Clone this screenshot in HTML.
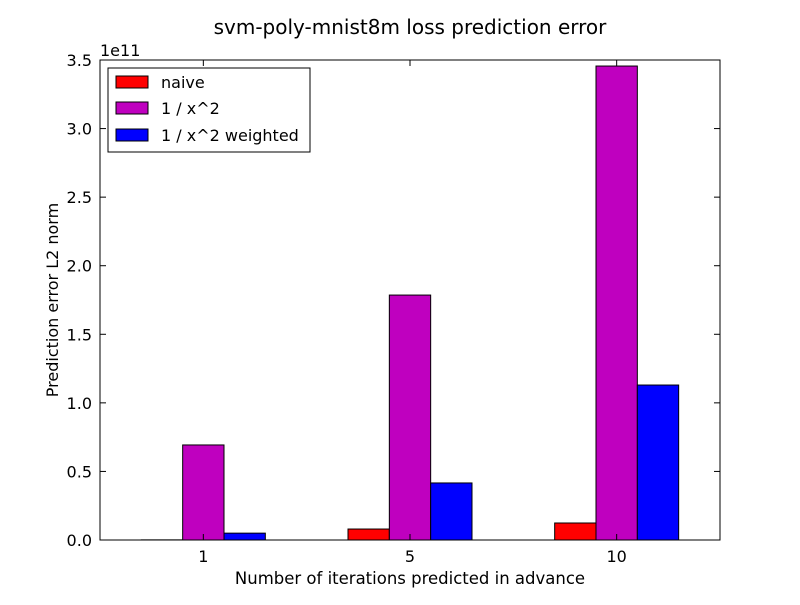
<!DOCTYPE html>
<html><head><meta charset="utf-8"><style>
body{margin:0;background:#fff;}
text{font-family:"DejaVu Sans","Liberation Sans",sans-serif;}
</style></head><body>
<svg id="chart" width="800" height="600" xmlns="http://www.w3.org/2000/svg">
<rect width="800" height="600" fill="#fff"/>
<text x="410" y="34" font-size="20" text-anchor="middle">svm-poly-mnist8m loss prediction error</text>
<g id="bars"></g>
<rect x="100" y="60" width="620" height="480" fill="none" stroke="#000" stroke-width="1"/>
<g id="axes"></g>
<text x="100" y="56" font-size="16">1e11</text>
<text x="410" y="584" font-size="16.5" text-anchor="middle">Number of iterations predicted in advance</text>
<text transform="translate(58,300) rotate(-90)" font-size="16" text-anchor="middle">Prediction error L2 norm</text>
<g>
<rect x="108" y="68" width="202" height="84" fill="#fff" stroke="#000"/>
<g><rect x="116" y="76" width="32" height="12" fill="#ff0000" stroke="#000"/><text x="161" y="88" font-size="16">naive</text></g>
<g><rect x="116" y="102" width="32" height="12" fill="#bf00bf" stroke="#000"/><text x="161" y="114" font-size="16">1 / x^2</text></g>
<g><rect x="116" y="129" width="32" height="12" fill="#0000ff" stroke="#000"/><text x="161" y="141" font-size="16">1 / x^2 weighted</text></g>
</g>
</svg>
<script>
const categories = ["1","5","10"];
const naive = [0.001, 0.08, 0.124];
const invX2 = [0.693, 1.786, 3.456];
const invX2Weighted = [0.05, 0.416, 1.13];
const yTicks = [0,0.5,1.0,1.5,2.0,2.5,3.0,3.5];
const yTickLabels = ["0.0","0.5","1.0","1.5","2.0","2.5","3.0","3.5"];
const NS="http://www.w3.org/2000/svg";
const x0=100,x1=720,y0=540,y1=60;
function xs(i){return x0+(i+0.5)*(x1-x0)/3;}
function ys(v){return y0-v/3.5*(y0-y1);}
const bw=(x1-x0)/3*0.2;
const bars=document.getElementById('bars');
const series=[[naive,"#ff0000","naive",-1.5],[invX2,"#bf00bf","inv-x2",-0.5],[invX2Weighted,"#0000ff","inv-x2-weighted",0.5]];
series.forEach(s=>{
  s[0].forEach((v,i)=>{
    const r=document.createElementNS(NS,'rect');
    const x=xs(i)+s[3]*bw;
    r.setAttribute('x',x);r.setAttribute('y',ys(v));
    r.setAttribute('width',bw);r.setAttribute('height',y0-ys(v));
    r.setAttribute('fill',s[1]);r.setAttribute('stroke','#000');r.setAttribute('stroke-width','1');
    
    
    bars.appendChild(r);
  });
});
const axes=document.getElementById('axes');
yTicks.forEach((t,k)=>{
  const y=ys(t);
  [[x0,x0+6],[x1,x1-6]].forEach(p=>{
    const l=document.createElementNS(NS,'line');
    l.setAttribute('x1',p[0]);l.setAttribute('x2',p[1]);l.setAttribute('y1',y);l.setAttribute('y2',y);l.setAttribute('stroke','#000');
    
    
    axes.appendChild(l);
  });
  const tx=document.createElementNS(NS,'text');
  tx.setAttribute('x',x0-8);tx.setAttribute('y',y+6);tx.setAttribute('font-size','16');tx.setAttribute('text-anchor','end');
  tx.textContent=yTickLabels[k];
  
  
  axes.appendChild(tx);
});
categories.forEach((c,i)=>{
  const x=xs(i);
  [[y0,y0-6],[y1,y1+6]].forEach(p=>{
    const l=document.createElementNS(NS,'line');
    l.setAttribute('x1',x);l.setAttribute('x2',x);l.setAttribute('y1',p[0]);l.setAttribute('y2',p[1]);l.setAttribute('stroke','#000');
    
    
    axes.appendChild(l);
  });
  const tx=document.createElementNS(NS,'text');
  tx.setAttribute('x',x);tx.setAttribute('y',y0+22);tx.setAttribute('font-size','16');tx.setAttribute('text-anchor','middle');
  tx.textContent=c;
  
  
  axes.appendChild(tx);
});
</script>
</body></html>
